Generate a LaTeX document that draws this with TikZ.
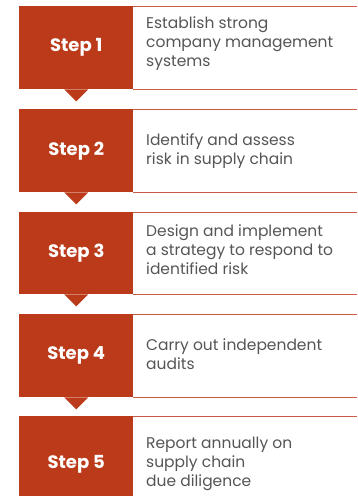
\documentclass[tikz,border=0pt]{standalone}
\usepackage{fontspec}
\setmainfont{Poppins}
\usepackage{xcolor}
\usetikzlibrary{positioning}
\definecolor{stepred}{RGB}{187,58,26}
\definecolor{rulered}{RGB}{200,90,70}
\definecolor{desctext}{RGB}{85,85,85}

\begin{document}
\begin{tikzpicture}[
    x=1pt, y=-1pt,
    stepbox/.style={rectangle, fill=stepred, minimum width=114pt, minimum height=83pt, inner sep=0pt, text=white, font=\fontsize{18}{21}\selectfont\bfseries},
    desc/.style={anchor=west, align=left, text=desctext, inner sep=0pt, font=\fontsize{15.5}{19}\selectfont},
    rule/.style={draw=rulered, line width=0.9pt},
    pointer/.style={fill=stepred}
]
\useasboundingbox (0,0) rectangle (357,496);
\coordinate (edge) at (357,0);

\draw[rule] (19,6) -- (357,6);
\draw[rule] (19,109) -- (357,109);
\draw[rule] (19,212) -- (357,212);
\draw[rule] (19,314) -- (357,314);
\draw[rule] (19,416) -- (357,416);

\node[stepbox, anchor=north west] (step1) at (19,6) {Step 1};
\node[stepbox, anchor=north west] (step2) at (19,109) {Step 2};
\node[stepbox, anchor=north west, minimum height=82pt] (step3) at (19,212) {Step 3};
\node[stepbox, anchor=north west] (step4) at (19,314) {Step 4};
\node[stepbox, anchor=north west, minimum height=96pt] (step5) at (19,416) {Step 5};

\foreach \s in {step1,step2,step3,step4}{
    \draw[rule] (\s.south east) -- (\s.south east -| edge);
    \fill[pointer] ([xshift=-12pt]\s.south) -- ([xshift=12pt]\s.south) -- ([yshift=-12pt]\s.south) -- cycle;
}

\node[desc] (desc1) at (146,44) {Establish strong\\company management\\systems};
\node[desc] (desc2) at (146,151) {Identify and assess\\risk in supply chain};
\node[desc] (desc3) at (146,250) {Design and implement\\a strategy to respond to\\identified risk};
\node[desc] (desc4) at (146,354) {Carry out independent\\audits};
\node[desc] (desc5) at (146,464) {Report annually on\\supply chain\\due diligence};
\end{tikzpicture}
\end{document}
